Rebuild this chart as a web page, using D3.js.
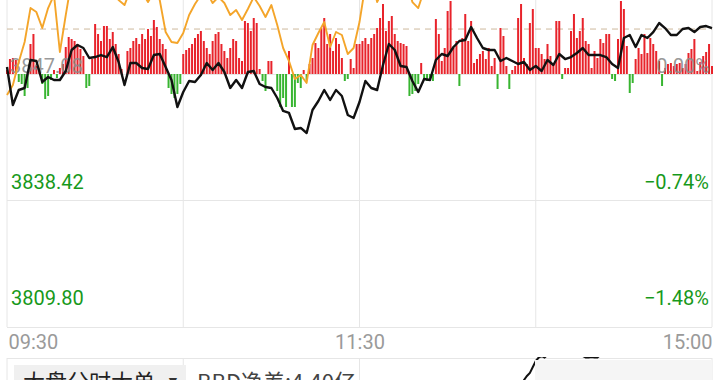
<!DOCTYPE html>
<html>
<head>
<meta charset="utf-8">
<script src="https://cdn.jsdelivr.net/npm/d3@7"></script>
<style>
  body { margin: 0; background: #fff; }
  svg { display: block; font-family: Roboto, "Noto Sans", sans-serif; }
</style>
</head>
<body>
<div id="chart"></div>
<script>
// ---- data ----
var prevClose = 3847.08;
var dashLevel = 3857.20;
var priceLabels = ["3847.08", "3838.42", "3809.80"];
var pctLabels = ["0.00%", "\u22120.74%", "\u22121.48%"];
var pctLevels = [0, -0.74, -1.48];
var timeLabels = ["09:30", "11:30", "15:00"];
var timeTicks = [0, 120, 240];
var panelTitle = "大盘分时大单";
var bbdText = "BBD净差:4.40亿";

// big-order net flow, one bar per minute (241 minutes)
var bigOrder = [
  4, 15, 16, 14, -8, -10, -22, -14, 30, 40,
  8, 6, -10, -25, -22, -6, 4, -4, 6, 10,
  27, 37, 35, 33, 30, 25, 18, -14, -12, 15,
  50, 40, 33, 48, 48, 35, 42, 30, 20, 5,
  0, 23, 26, 33, 36, 30, 40, 35, 45, 38,
  54, 47, 35, 30, 25, -14, -20, -24, -20, -10,
  20, 24, 26, 30, 36, 40, 43, 33, 26, 20,
  33, 40, 42, 30, 23, 16, 26, 35, 33, 16,
  13, 53, 51, 43, 56, 51, 5, -7, -17, 13,
  13, 0, -17, -33, -24, -33, 23, -33, -33, -9,
  -14, 4, -6, 10, 16, 31, 26, 46, 56, 30,
  40, 23, 36, 30, 16, -7, -5, 15, 6, 30,
  30, 33, 36, 30, 36, 40, 46, 56, 70, 43,
  53, 58, 40, 33, 31, 30, 28, -22, -20, -17,
  -10, 11, -6, -7, -4, -7, 55, 40, 13, 26,
  63, 73, 26, 33, -12, 36, 60, 33, 53, 11,
  15, 20, 23, 15, 26, 8, 16, -15, 46, 38,
  8, -15, 4, 8, 56, 70, 16, 10, 51, 65,
  26, 26, 20, 15, 30, 18, 10, 53, 53, -5,
  6, 6, 43, 60, 36, 43, 56, 33, 30, 6,
  23, 16, 35, 31, 40, 40, -5, -7, 35, 73,
  65, 28, -19, -9, 15, 26, 20, 40, 21, 36,
  30, 23, 13, -12, 6, 10, 11, 8, 10, 11,
  6, 10, 21, 25, 35, 3, 12, 18, 22, 30,
  8
];

// index price, one value every 2 minutes
var indexLine = [
  3848.65, 3840.11, 3843.48, 3843.93, 3850.23, 3850.00, 3845.28, 3846.41, 3845.73, 3845.73,
  3847.75, 3852.48, 3853.60, 3852.93, 3850.68, 3850.90, 3851.35, 3850.90, 3853.15, 3849.78,
  3844.61, 3849.55, 3849.55, 3848.43, 3848.20, 3851.35, 3851.58, 3848.65, 3845.73, 3839.66,
  3843.03, 3845.51, 3845.28, 3846.86, 3849.55, 3847.98, 3849.55, 3847.53, 3843.93, 3845.73,
  3843.93, 3847.53, 3847.75, 3844.83, 3844.16, 3843.93, 3841.68, 3838.76, 3838.31, 3834.71,
  3834.94, 3833.81, 3838.98, 3841.01, 3843.48, 3841.23, 3843.48, 3842.13, 3837.86, 3837.19,
  3840.78, 3845.51, 3843.93, 3843.48, 3849.10, 3853.83, 3852.48, 3848.88, 3848.65, 3845.51,
  3843.03, 3845.96, 3845.73, 3850.23, 3851.58, 3851.13, 3853.15, 3854.50, 3854.73, 3857.65,
  3855.18, 3852.93, 3852.48, 3852.48, 3850.00, 3850.68, 3850.00, 3849.33, 3849.78, 3847.98,
  3848.88, 3847.75, 3850.23, 3849.10, 3851.58, 3850.45, 3850.90, 3851.80, 3852.93, 3851.35,
  3851.35, 3851.35, 3850.90, 3849.33, 3848.43, 3855.18, 3855.85, 3853.15, 3855.85, 3855.18,
  3856.52, 3858.55, 3857.42, 3855.85, 3855.85, 3857.20, 3857.42, 3856.52, 3857.65, 3857.87,
  3857.42
];

// reference line (orange), one value every 2 minutes
var refLine = [
  3842.36, 3844.61, 3849.78, 3854.28, 3861.92, 3861.02, 3857.43, 3861.92, 3864.85, 3852.03,
  3860.35, 3868.22, 3871.59, 3872.72, 3871.59, 3870.47, 3869.35, 3868.22, 3865.97, 3863.72,
  3862.60, 3865.97, 3867.10, 3865.52, 3863.27, 3865.52, 3863.72, 3856.53, 3854.28, 3854.05,
  3856.30, 3860.35, 3862.82, 3864.85, 3865.52, 3863.05, 3864.40, 3863.05, 3860.35, 3861.47,
  3859.22, 3861.70, 3864.40, 3862.37, 3859.90, 3862.60, 3858.10, 3852.93, 3850.00, 3845.96,
  3846.86, 3845.06, 3853.60, 3856.30, 3858.77, 3853.15, 3856.53, 3855.85, 3851.58, 3852.93,
  3858.77, 3867.10, 3869.35, 3863.27, 3865.97, 3870.47, 3872.72, 3871.59, 3868.22, 3863.27,
  3861.92, 3865.97, 3869.35, 3872.72, 3874.97, 3876.10, 3877.22, 3878.34, 3879.47, 3880.59,
  3879.47, 3877.67, 3876.77, 3876.10, 3874.97, 3874.52, 3873.84, 3873.17, 3872.72, 3872.27,
  3871.59, 3870.47, 3870.02, 3869.35, 3870.47, 3871.59, 3872.72, 3873.84, 3874.97, 3873.84,
  3872.72, 3872.27, 3871.59, 3871.14, 3870.47, 3871.59, 3872.72, 3873.84, 3874.52, 3874.97,
  3876.10, 3877.22, 3876.77, 3876.10, 3875.42, 3876.10, 3876.77, 3876.32, 3876.10, 3876.54,
  3876.32
];

// BBD line in the lower panel (starts at minute 175, runs out of the panel top)
var bbdStart = 175;
var bbdLine = [-22, -17, -13, -10, -4, 2, 5.5, 7, 5.5, 8, 12, 14, 14, 12, 11, 12, 14, 13, 11, 9,
  8, 7, 5.5, 5.5, 6, 5.5, 5.5, 8, 10, 12, 14];

// ---- chart ----
var W = 720, H = 380;
var left = 7, right = 712, top0 = 74, bottom = 327, panelTop = 358;

var svg = d3.select("#chart").append("svg")
    .attr("width", W)
    .attr("height", H);

var x = d3.scaleLinear().domain([0, 240]).range([left, right]);
var y = d3.scaleLinear()
    .domain([prevClose * (1 + pctLevels[2] / 100), prevClose])
    .range([bottom, top0]);
var yBar = d3.scaleLinear().domain([-100, 100]).range([y(prevClose) + 100, y(prevClose) - 100]);
var yBbd = d3.scaleLinear().domain([5, -20]).range([panelTop, panelTop + 25]);

var gridColor = "#e6e6e6";

// vertical grid (price area + lower panel)
[0, 60, 120, 180, 240].forEach(function(m) {
    svg.append("line")
        .attr("x1", x(m)).attr("x2", x(m))
        .attr("y1", 0).attr("y2", bottom)
        .attr("stroke", gridColor);
    svg.append("line")
        .attr("x1", x(m)).attr("x2", x(m))
        .attr("y1", panelTop).attr("y2", H)
        .attr("stroke", gridColor);
});

// horizontal grid
pctLevels.forEach(function(p) {
    var yy = Math.round(y(prevClose * (1 + p / 100))) + 0.5;
    svg.append("line")
        .attr("x1", left).attr("x2", right)
        .attr("y1", yy).attr("y2", yy)
        .attr("stroke", gridColor);
});
svg.append("line")
    .attr("x1", left).attr("x2", right)
    .attr("y1", panelTop + 0.5).attr("y2", panelTop + 0.5)
    .attr("stroke", gridColor);

// dashed level
svg.append("line")
    .attr("x1", left).attr("x2", right)
    .attr("y1", y(dashLevel)).attr("y2", y(dashLevel))
    .attr("stroke", "#cdb89c")
    .attr("stroke-width", 1)
    .attr("stroke-dasharray", "6,5");

// bars
svg.selectAll(".bar")
    .data(bigOrder)
    .enter().append("rect")
    .attr("class", "bar")
    .attr("x", function(d, i) { return x(i) - 1; })
    .attr("width", 2)
    .attr("y", function(d) { return d >= 0 ? yBar(d) : yBar(0); })
    .attr("height", function(d) { return Math.abs(yBar(d) - yBar(0)); })
    .attr("fill", function(d) { return d >= 0 ? "#e8232b" : "#38b531"; });

// faded prev-close labels over the bars
svg.append("text")
    .attr("x", 10).attr("y", 73)
    .attr("font-size", 20)
    .attr("fill", "#8c8c8c")
    .attr("fill-opacity", 0.9)
    .text(priceLabels[0]);
svg.append("text")
    .attr("x", 710).attr("y", 73)
    .attr("font-size", 20)
    .attr("text-anchor", "end")
    .attr("fill", "#8c8c8c")
    .attr("fill-opacity", 0.9)
    .text(pctLabels[0]);

// lines
var line = d3.line()
    .x(function(d, i) { return x(i * 2); })
    .y(function(d) { return y(d); });

svg.append("path")
    .datum(refLine)
    .attr("fill", "none")
    .attr("stroke", "#f4a52a")
    .attr("stroke-width", 1.9)
    .attr("stroke-linejoin", "round")
    .attr("d", line);

svg.append("path")
    .datum(indexLine)
    .attr("fill", "none")
    .attr("stroke", "#111")
    .attr("stroke-width", 2.4)
    .attr("stroke-linejoin", "round")
    .attr("d", line);

// green level labels
var green = "#17991b";
[1, 2].forEach(function(k) {
    var yy = k === 1 ? 189 : 305;
    svg.append("text")
        .attr("x", 11).attr("y", yy)
        .attr("font-size", 20)
        .attr("fill", green)
        .text(priceLabels[k]);
    svg.append("text")
        .attr("x", 709).attr("y", yy)
        .attr("font-size", 20)
        .attr("text-anchor", "end")
        .attr("fill", green)
        .text(pctLabels[k]);
});

// time axis
var xAxis = d3.axisBottom(x)
    .tickValues(timeTicks)
    .tickSize(0)
    .tickFormat(function(d, i) { return timeLabels[i]; });

var axisG = svg.append("g")
    .attr("transform", "translate(0,332)")
    .call(xAxis);
axisG.select(".domain").remove();
axisG.selectAll("text")
    .attr("font-family", "Roboto, sans-serif")
    .attr("font-size", 20)
    .attr("fill", "#9a9a9a")
    .attr("text-anchor", function(d, i) { return i === 0 ? "start" : (i === 2 ? "end" : "middle"); })
    .attr("x", function(d, i) { return i === 0 ? 1 : 0; });
axisG.attr("font-family", null);

// lower panel
svg.append("rect")
    .attr("x", 14).attr("y", 365)
    .attr("width", 172).attr("height", 20)
    .attr("fill", "#f0f0f0");

svg.append("text")
    .attr("x", 23).attr("y", 390)
    .attr("font-family", "'Noto Sans CJK SC', sans-serif")
    .attr("font-size", 22)
    .attr("fill", "#222")
    .text(panelTitle);
svg.append("text")
    .attr("x", 166).attr("y", 386)
    .attr("font-size", 14)
    .attr("fill", "#333")
    .text("\u25BC");

svg.append("text")
    .attr("x", 197).attr("y", 390)
    .attr("font-family", "'Noto Sans CJK SC', sans-serif")
    .attr("font-size", 22)
    .attr("fill", "#444")
    .text(bbdText);

svg.append("clipPath").attr("id", "panelClip")
    .append("rect")
    .attr("x", left).attr("y", panelTop - 1)
    .attr("width", right - left).attr("height", H - panelTop + 1);

svg.append("path")
    .datum(bbdLine)
    .attr("clip-path", "url(#panelClip)")
    .attr("fill", "none")
    .attr("stroke", "#111")
    .attr("stroke-width", 2)
    .attr("d", d3.line()
        .x(function(d, i) { return x(bbdStart + i); })
        .y(function(d) { return yBbd(d); }));

svg.append("rect")
    .attr("x", 535).attr("y", 360)
    .attr("width", 177).attr("height", 20)
    .attr("fill", "#f5f5f5");
</script>
</body>
</html>
